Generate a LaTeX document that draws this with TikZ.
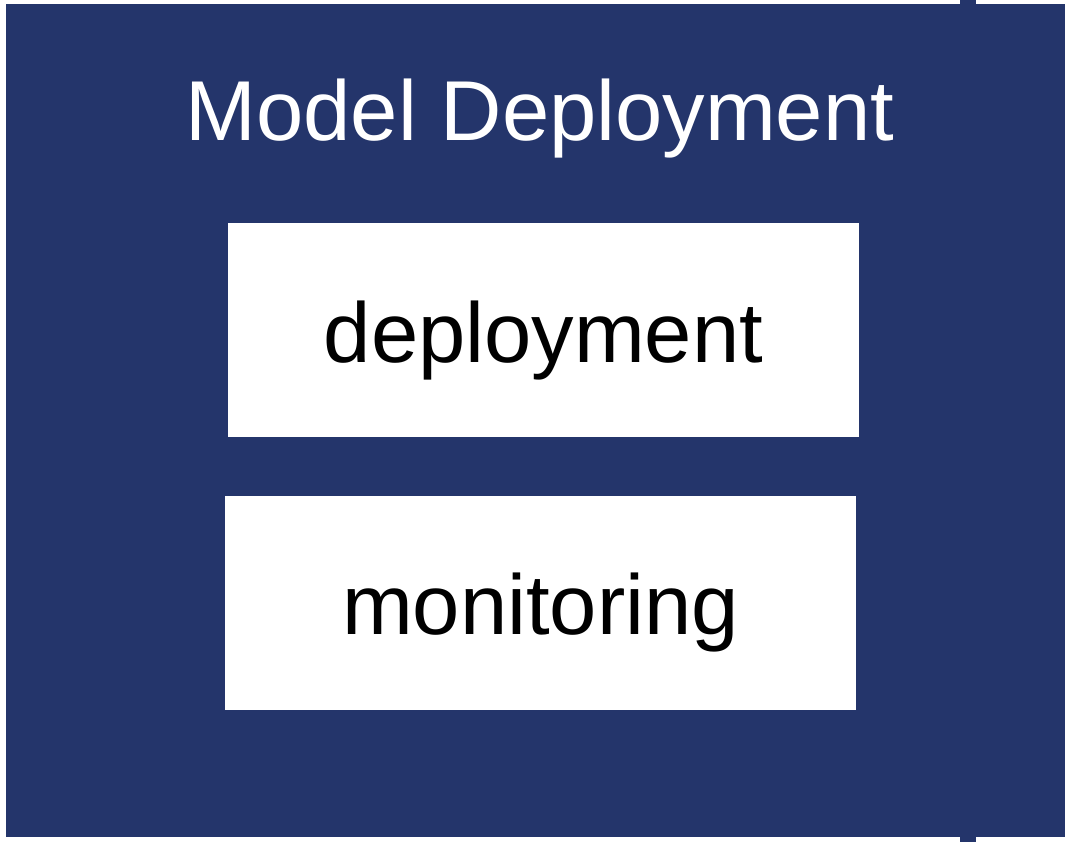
\documentclass[tikz,border=0pt]{standalone}
\usepackage{fontspec}
\setmainfont{Liberation Sans}
\usepackage{xcolor}
\usetikzlibrary{positioning}
\usetikzlibrary{calc}
\definecolor{navy}{RGB}{36,53,107}
\newcommand{\bigfont}{\fontsize{85}{100}\selectfont}

\begin{document}
\begin{tikzpicture}[x=1pt, y=-1pt,
	panel/.style={fill=white, draw=none, inner sep=0pt},
	lbl/.style={inner sep=0pt, anchor=base, font=\bigfont}]
					% fix margins
					\useasboundingbox (0,0) rectangle (1065,842);
					% draw background
					\fill[navy] (6,4) rectangle (1065,837);
					\fill[navy] (960,0) rectangle (976,842);
					% add title
					\node[lbl, text=white] (title) at (540,141) {Model Deployment};
					% draw boxes
					\node[panel, minimum width=631pt, minimum height=214pt] (deploy) at (543.5,330) {};
					\node[panel, minimum width=631pt, minimum height=214pt] (monitor) at (540.5,603) {};
					\node[lbl] (deploytxt) at (543.5,362) {deployment};
					\node[lbl] (monitortxt) at (540.5,634) {monitoring};
				\end{tikzpicture}
\end{document}
